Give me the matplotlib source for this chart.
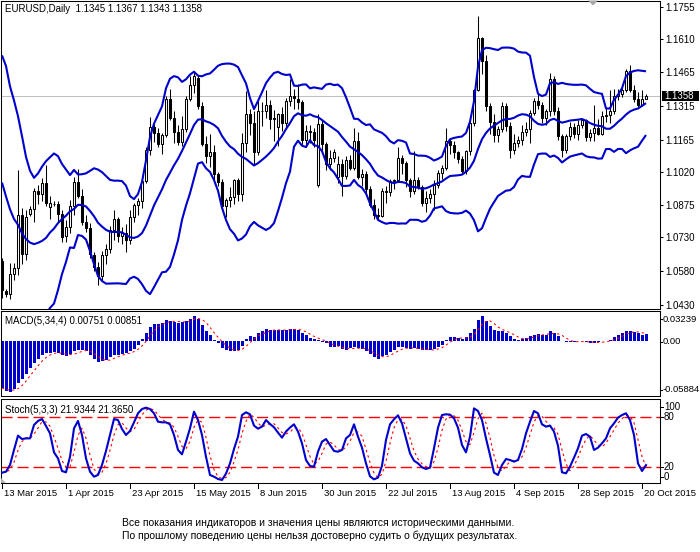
import numpy as np
import pandas as pd
import matplotlib
matplotlib.use('Agg')
import matplotlib.pyplot as plt
from matplotlib.lines import Line2D
from matplotlib.patches import Polygon, Rectangle

plt.rcParams['font.family'] = ['Liberation Sans', 'DejaVu Sans']

W, H = 700, 552

# ---------------- data ----------------
opens = [1.0626, 1.0490, 1.0480, 1.0567, 1.0595, 1.0830, 1.0655, 1.0835, 1.0855, 1.0935,
         1.0925, 1.0970, 1.0865, 1.0880, 1.0880, 1.0833, 1.0735, 1.0775, 1.0870, 1.0975,
         1.0915, 1.0800, 1.0770, 1.0650, 1.0600, 1.0560, 1.0650, 1.0680, 1.0765, 1.0810,
         1.0735, 1.0750, 1.0720, 1.0820, 1.0875, 1.0890, 1.0980, 1.1120, 1.1222, 1.1195,
         1.1145, 1.1185, 1.1345, 1.1260, 1.1200, 1.1155, 1.1210, 1.1345, 1.1405, 1.1440,
         1.1315, 1.1145, 1.1090, 1.1110, 1.1010, 1.0975, 1.0870, 1.0895, 1.0910, 1.0985,
         1.0925, 1.1150, 1.1280, 1.1240, 1.1110, 1.1290, 1.1290, 1.1320, 1.1255, 1.1220,
         1.1280, 1.1240, 1.1335, 1.1360, 1.1345, 1.1330, 1.1165, 1.1205, 1.1200, 1.0965,
         1.1235, 1.1145, 1.1055, 1.1085, 1.1000, 1.1055, 1.1005, 1.1075, 1.1040, 1.1160,
         1.1000, 1.1010, 1.0945, 1.0875, 1.0830, 1.0825, 1.0935, 1.0930, 1.0980, 1.0985,
         1.1085, 1.1060, 1.0985, 1.0935, 1.0985, 1.0955, 1.0885, 1.0905, 1.0925, 1.0965,
         1.1015, 1.1040, 1.1160, 1.1140, 1.1110, 1.1080, 1.1025, 1.1115, 1.1240, 1.1385,
         1.1615, 1.1515, 1.1315, 1.1245, 1.1185, 1.1210, 1.1315, 1.1225, 1.1120, 1.1150,
         1.1165, 1.1200, 1.1210, 1.1285, 1.1335, 1.1320, 1.1260, 1.1290, 1.1435, 1.1290,
         1.1180, 1.1120, 1.1180, 1.1220, 1.1190, 1.1230, 1.1250, 1.1175, 1.1195, 1.1215,
         1.1190, 1.1270, 1.1275, 1.1290, 1.1360, 1.1365, 1.1385, 1.1470, 1.1385, 1.1345,
         1.1318, 1.1345]
highs = [1.0637, 1.0502, 1.0615, 1.0617, 1.1030, 1.0860, 1.0850, 1.0870, 1.0950, 1.0965,
         1.0995, 1.1050, 1.0915, 1.0890, 1.0890, 1.0850, 1.0808, 1.0895, 1.1000, 1.1035,
         1.0945, 1.0830, 1.0795, 1.0665, 1.0620, 1.0670, 1.0700, 1.0780, 1.0850, 1.0820,
         1.0775, 1.0790, 1.0850, 1.0885, 1.0905, 1.0990, 1.1130, 1.1265, 1.1235, 1.1215,
         1.1195, 1.1360, 1.1390, 1.1290, 1.1230, 1.1270, 1.1360, 1.1445, 1.1467, 1.1450,
         1.1330, 1.1180, 1.1190, 1.1140, 1.1020, 1.0990, 1.0905, 1.0955, 1.0990, 1.0995,
         1.1195, 1.1380, 1.1300, 1.1290, 1.1335, 1.1330, 1.1385, 1.1340, 1.1295, 1.1285,
         1.1310, 1.1350, 1.1436, 1.1390, 1.1410, 1.1340, 1.1230, 1.1230, 1.1215, 1.1280,
         1.1250, 1.1155, 1.1120, 1.1125, 1.1090, 1.1080, 1.1090, 1.1095, 1.1215, 1.1200,
         1.1035, 1.1025, 1.0960, 1.0900, 1.0860, 1.0950, 1.0960, 1.0990, 1.0990, 1.1130,
         1.1095, 1.1070, 1.0995, 1.1115, 1.1000, 1.0965, 1.0935, 1.0945, 1.0985, 1.1030,
         1.1050, 1.1215, 1.1170, 1.1160, 1.1115, 1.1090, 1.1120, 1.1245, 1.1390, 1.1714,
         1.1620, 1.1540, 1.1325, 1.1280, 1.1225, 1.1330, 1.1325, 1.1245, 1.1190, 1.1180,
         1.1230, 1.1245, 1.1295, 1.1350, 1.1370, 1.1330, 1.1300, 1.1460, 1.1445, 1.1310,
         1.1190, 1.1190, 1.1245, 1.1240, 1.1250, 1.1260, 1.1255, 1.1210, 1.1320, 1.1255,
         1.1290, 1.1305, 1.1385, 1.1390, 1.1390, 1.1410, 1.1480, 1.1495, 1.1405, 1.1375,
         1.1385, 1.1367]
lows = [1.0462, 1.0465, 1.0458, 1.0540, 1.0565, 1.0613, 1.0630, 1.0825, 1.0800, 1.0880,
        1.0890, 1.0870, 1.0810, 1.0870, 1.0800, 1.0712, 1.0710, 1.0750, 1.0830, 1.0905,
        1.0785, 1.0755, 1.0640, 1.0580, 1.0520, 1.0540, 1.0610, 1.0660, 1.0720, 1.0710,
        1.0700, 1.0665, 1.0700, 1.0800, 1.0830, 1.0860, 1.0970, 1.1095, 1.1155, 1.1130,
        1.1100, 1.1175, 1.1250, 1.1150, 1.1140, 1.1135, 1.1200, 1.1335, 1.1370, 1.1300,
        1.1135, 1.1060, 1.1045, 1.0985, 1.0960, 1.0860, 1.0819, 1.0865, 1.0880, 1.0890,
        1.0890, 1.1110, 1.1185, 1.1050, 1.1095, 1.1225, 1.1260, 1.1210, 1.1160, 1.1135,
        1.1205, 1.1210, 1.1315, 1.1300, 1.1300, 1.1135, 1.1130, 1.1150, 1.1130, 1.0955,
        1.1120, 1.1030, 1.1030, 1.1065, 1.0970, 1.0915, 1.0990, 1.1030, 1.1030, 1.0990,
        1.0960, 1.0925, 1.0865, 1.0810, 1.0808, 1.0820, 1.0885, 1.0915, 1.0945, 1.0975,
        1.1010, 1.0955, 1.0910, 1.0925, 1.0945, 1.0870, 1.0845, 1.0885, 1.0850, 1.0950,
        1.0990, 1.1030, 1.1100, 1.1085, 1.1060, 1.1015, 1.1010, 1.1095, 1.1225, 1.1380,
        1.1455, 1.1290, 1.1190, 1.1155, 1.1155, 1.1200, 1.1205, 1.1085, 1.1100, 1.1130,
        1.1140, 1.1180, 1.1150, 1.1275, 1.1300, 1.1240, 1.1230, 1.1270, 1.1275, 1.1165,
        1.1087, 1.1105, 1.1165, 1.1170, 1.1165, 1.1215, 1.1160, 1.1160, 1.1160, 1.1185,
        1.1185, 1.1245, 1.1240, 1.1280, 1.1340, 1.1355, 1.1375, 1.1375, 1.1330, 1.1310,
        1.1315, 1.1343]
closes = [1.0495, 1.0478, 1.0567, 1.0595, 1.0830, 1.0655, 1.0820, 1.0855, 1.0935, 1.0925,
          1.0970, 1.0885, 1.0885, 1.0880, 1.0833, 1.0730, 1.0775, 1.0870, 1.0975, 1.0915,
          1.0800, 1.0770, 1.0655, 1.0600, 1.0560, 1.0650, 1.0680, 1.0765, 1.0810, 1.0735,
          1.0750, 1.0720, 1.0820, 1.0875, 1.0890, 1.0980, 1.1120, 1.1222, 1.1195, 1.1145,
          1.1185, 1.1345, 1.1260, 1.1200, 1.1155, 1.1210, 1.1345, 1.1405, 1.1445, 1.1315,
          1.1145, 1.1090, 1.1110, 1.1010, 1.0975, 1.0870, 1.0895, 1.0910, 1.0985, 1.0925,
          1.1150, 1.1280, 1.1240, 1.1110, 1.1290, 1.1290, 1.1320, 1.1255, 1.1260, 1.1280,
          1.1240, 1.1335, 1.1360, 1.1350, 1.1330, 1.1165, 1.1205, 1.1200, 1.1165, 1.1235,
          1.1145, 1.1055, 1.1085, 1.1110, 1.1055, 1.1005, 1.1075, 1.1040, 1.1160, 1.1000,
          1.1010, 1.0945, 1.0875, 1.0830, 1.0825, 1.0935, 1.0930, 1.0980, 1.0985, 1.1085,
          1.1060, 1.0985, 1.0935, 1.0985, 1.0955, 1.0885, 1.0905, 1.0925, 1.0965, 1.1015,
          1.1040, 1.1160, 1.1140, 1.1110, 1.1080, 1.1025, 1.1115, 1.1240, 1.1385, 1.1615,
          1.1515, 1.1315, 1.1245, 1.1185, 1.1210, 1.1315, 1.1225, 1.1120, 1.1150, 1.1165,
          1.1200, 1.1210, 1.1285, 1.1335, 1.1320, 1.1260, 1.1290, 1.1435, 1.1290, 1.1180,
          1.1120, 1.1180, 1.1220, 1.1190, 1.1230, 1.1250, 1.1175, 1.1195, 1.1215, 1.1190,
          1.1270, 1.1275, 1.1290, 1.1360, 1.1365, 1.1385, 1.1470, 1.1385, 1.1345, 1.1318,
          1.1345, 1.1358]
# closes of the bars just before the visible window (used only by the band average)
lead_in_closes = [1.1340, 1.1365, 1.1195, 1.1195, 1.1185, 1.1175, 1.1075, 1.1030,
                  1.0845, 1.0850, 1.0700, 1.0550, 1.0630]

macd_main = [-0.0499, -0.0528, -0.0542, -0.0513, -0.0445, -0.0399, -0.0349, -0.0284, -0.0231, -0.0184,
             -0.0148, -0.0127, -0.0120, -0.0116, -0.0120, -0.0148, -0.0159, -0.0134, -0.0106, -0.0095,
             -0.0088, -0.0098, -0.0141, -0.0184, -0.0220, -0.0213, -0.0195, -0.0170, -0.0148, -0.0141,
             -0.0131, -0.0123, -0.0106, -0.0077, -0.0034, 0.0027, 0.0091, 0.0152, 0.0188, 0.0188,
             0.0199, 0.0234, 0.0224, 0.0209, 0.0195, 0.0209, 0.0224, 0.0245, 0.0274, 0.0245,
             0.0181, 0.0116, 0.0066, 0.0020, -0.0020, -0.0070, -0.0095, -0.0098, -0.0098, -0.0095,
             -0.0048, 0.0030, 0.0063, 0.0052, 0.0091, 0.0109, 0.0131, 0.0123, 0.0123, 0.0120,
             0.0120, 0.0127, 0.0134, 0.0134, 0.0127, 0.0088, 0.0066, 0.0038, 0.0027, 0.0016,
             -0.0002, -0.0020, -0.0063, -0.0063, -0.0052, -0.0084, -0.0088, -0.0070, -0.0063, -0.0070,
             -0.0077, -0.0106, -0.0134, -0.0170, -0.0188, -0.0159, -0.0141, -0.0113, -0.0095, -0.0063,
             -0.0063, -0.0070, -0.0080, -0.0070, -0.0077, -0.0095, -0.0095, -0.0095, -0.0080, -0.0055,
             -0.0034, 0.0013, 0.0045, 0.0045, 0.0034, 0.0027, 0.0045, 0.0091, 0.0138, 0.0234,
             0.0270, 0.0216, 0.0163, 0.0127, 0.0116, 0.0116, 0.0091, 0.0055, 0.0030, 0.0020,
             0.0027, 0.0038, 0.0055, 0.0073, 0.0080, 0.0073, 0.0073, 0.0109, 0.0091, 0.0055,
             0.0009, -0.0005, -0.0005, -0.0005, 0.0005, 0.0002, -0.0009, -0.0013, -0.0013, -0.0009,
             0.0002, 0.0009, 0.0016, 0.0045, 0.0066, 0.0088, 0.0109, 0.0109, 0.0105, 0.0090,
             0.0073, 0.0075]

stoch_k = [12.7, 13.9, 22.0, 40.3, 57.7, 53.6, 54.4, 54.4, 70.7, 75.6,
           77.9, 69.5, 60.5, 37.4, 30.1, 14.7, 13.1, 32.0, 66.6, 75.6,
           58.5, 30.1, 13.9, 7.8, 9.9, 22.0, 39.1, 58.5, 77.9, 76.7,
           65.8, 58.5, 63.4, 73.9, 84.9, 90.1, 91.8, 90.1, 84.9, 74.7,
           73.9, 73.9, 71.5, 58.5, 40.3, 35.0, 50.4, 66.6, 86.9, 76.7,
           58.5, 32.0, 9.9, 7.8, 5.0, 3.8, 11.5, 24.0, 41.5, 56.5,
           82.8, 86.1, 83.7, 69.9, 66.2, 68.7, 76.7, 71.9, 67.9, 61.4,
           55.3, 62.7, 67.6, 71.5, 62.7, 48.4, 28.1, 20.8, 20.0, 38.2,
           50.4, 53.6, 46.3, 39.1, 38.2, 40.3, 54.4, 58.5, 71.5, 56.5,
           43.1, 24.0, 8.2, 4.6, 6.6, 21.2, 52.5, 71.5, 77.6, 82.4,
           72.7, 54.4, 36.2, 27.3, 24.0, 19.2, 17.2, 18.8, 42.3, 67.4,
           82.8, 83.7, 83.3, 78.8, 67.4, 46.3, 37.4, 56.5, 90.9, 87.7,
           76.7, 54.4, 34.2, 12.7, 9.9, 22.0, 29.3, 28.1, 26.1, 28.1,
           41.5, 60.5, 74.7, 87.7, 84.9, 71.5, 68.7, 69.9, 62.7, 45.5,
           13.1, 11.9, 20.0, 30.9, 42.3, 57.7, 59.7, 56.5, 40.3, 43.1,
           48.4, 54.4, 66.6, 72.7, 79.6, 82.8, 84.9, 76.7, 58.5, 24.0,
           14.7, 21.9]

price_ticks = [1.1755, 1.1610, 1.1465, 1.1315, 1.1165, 1.1020, 1.0875, 1.0730, 1.0580, 1.0430]
date_tick_bars = [0, 16, 32, 48, 64, 80, 96, 112, 128, 144, 160]
date_labels = ['13 Mar 2015', '1 Apr 2015', '23 Apr 2015', '15 May 2015', '8 Jun 2015',
               '30 Jun 2015', '22 Jul 2015', '13 Aug 2015', '4 Sep 2015', '28 Sep 2015',
               '20 Oct 2015']
macd_scale = [0.03239, 0.00, -0.05884]
stoch_levels = [20, 80]
stoch_scale = [100, 80, 20, 0]
bb_period, bb_dev = 14, 2.0
last_price = 1.1358
header_text = 'EURUSD,Daily  1.1345 1.1367 1.1343 1.1358'
macd_text = 'MACD(5,34,4) 0.00751 0.00851'
stoch_text = 'Stoch(5,3,3) 21.9344 21.3650'
footer_lines = ['Все показания индикаторов и значения цены являются историческими данными.',
                'По прошлому поведению цены нельзя достоверно судить о будущих результатах.']

# ---------------- helpers ----------------
BLUE = '#0000CD'

def rect(l, t, r, b):
    return [l / W, 1 - b / H, (r - l) / W, (b - t) / H]

def fx(px):
    return px / W

def fy(py):
    return 1 - py / H

o = np.array(opens); h = np.array(highs); l = np.array(lows); c = np.array(closes)
h = np.maximum(h, np.maximum(o, c)); l = np.minimum(l, np.minimum(o, c))
n = len(c)
x = np.arange(n)

allc = pd.Series(list(lead_in_closes) + list(closes))
mid = allc.rolling(bb_period).mean().values[-n:]
sd = allc.rolling(bb_period).std(ddof=0).values[-n:]
upper = mid + bb_dev * sd
lower = mid - bb_dev * sd

macd_arr = np.array(macd_main)
signal = pd.Series(macd_arr).rolling(4, min_periods=1).mean().values
k_arr = np.array(stoch_k)
d_arr = pd.Series(k_arr).rolling(3, min_periods=1).mean().values

fig = plt.figure(figsize=(W / 100, H / 100), dpi=100)
fig.patch.set_facecolor('white')

XL = (-0.375, 164.5)
main = fig.add_axes(rect(0.5, 1, 660, 308.5))
macd_ax = fig.add_axes(rect(0.5, 311.3, 660, 396.3))
stoch_ax = fig.add_axes(rect(0.5, 399, 660, 483.3))

for ax in (main, macd_ax, stoch_ax):
    ax.set_xlim(*XL)
    ax.set_xticks([])
    for s in ax.spines.values():
        s.set_linewidth(0.75)
        s.set_color('black')

# ---- main chart ----
main.set_ylim(1.04144, 1.17803)
main.axhline(last_price, color='#C0C0C0', lw=0.75, zorder=1)
main.vlines(x, l, h, color='black', lw=0.75, zorder=2)
up = c >= o
bottoms = np.minimum(o, c)
heights = np.maximum(np.abs(c - o), 0.00002)
main.bar(x, heights, bottom=bottoms, width=0.5,
         color=np.where(up, 'white', 'black'), edgecolor='black', linewidth=0.75, zorder=3)
for band in (upper, mid, lower):
    main.plot(x, band, color=BLUE, lw=1.5, zorder=4, solid_capstyle='butt')
main.yaxis.tick_right()
main.set_yticks(price_ticks)
main.set_yticklabels(['%.4f' % v for v in price_ticks])
main.tick_params(axis='y', length=2.5, width=0.75, pad=1.5, labelsize=7, colors='black')

# ---- MACD ----
macd_ax.set_ylim(-0.05884, 0.03239)
macd_ax.set_yticks([])
macd_ax.bar(x, macd_arr, width=0.75, color=BLUE, linewidth=0, zorder=2)
macd_ax.plot(x, signal, color='red', lw=0.75, dashes=(2.2, 2.8), zorder=3)

# ---- Stochastic ----
stoch_ax.set_ylim(-0.24, 102.3)
stoch_ax.set_yticks([])
for lv in stoch_levels:
    stoch_ax.axhline(lv, color='#FF0000', lw=1.0, dashes=(8, 3.5), zorder=1)
stoch_ax.plot(x, k_arr, color=BLUE, lw=1.5, zorder=3)
stoch_ax.plot(x, d_arr, color='#FF0000', lw=0.8, dashes=(2.2, 2.8), zorder=2)

# ---- texts ----
fs = 7
fig.text(fx(5), fy(8.5), header_text, fontsize=fs, va='center', ha='left')
fig.text(fx(5), fy(320.5), macd_text, fontsize=fs, va='center', ha='left')
fig.text(fx(5), fy(410), stoch_text, fontsize=fs, va='center', ha='left')

macd_label_y = [319, 341.5, 389.5]
for v, py in zip(macd_scale, macd_label_y):
    txt = '0.00' if v == 0 else '%.5f' % v
    fig.text(fx(662.5), fy(py), txt, fontsize=6.8, va='center', ha='left')
    fig.add_artist(Line2D([fx(660), fx(662)], [fy(py), fy(py)], color='black', lw=0.75))

stoch_label_y = [406.7, 417.3, 466.7, 477.3]
for v, py in zip(stoch_scale, stoch_label_y):
    fig.text(fx(664), fy(py), str(v), fontsize=fs, va='center', ha='left')
    fig.add_artist(Line2D([fx(660), fx(663)], [fy(py), fy(py)], color='black', lw=0.75))

# last price marker
py_last = 6.7 + (1.1755 - last_price) / 0.0004442
fig.add_artist(Rectangle((fx(661.5), fy(py_last + 5)), 37 / W, 10.5 / H,
                         facecolor='black', edgecolor='black', lw=0))
fig.text(fx(664), fy(py_last), '%.4f' % last_price, fontsize=fs, color='white',
         va='center', ha='left')

# date axis
for b, lab in zip(date_tick_bars, date_labels):
    px = 2 + 4 * b
    fig.add_artist(Line2D([fx(px), fx(px)], [fy(483.3), fy(487.5)], color='black', lw=0.75))
    fig.text(fx(px + 1.5), fy(494), lab, fontsize=6.8, va='center', ha='left')

# shift markers
fig.add_artist(Polygon([(fx(588), fy(0.5)), (fx(598), fy(0.5)), (fx(593), fy(5.5))],
                       closed=True, facecolor='#A8A8A8', edgecolor='none'))
fig.add_artist(Polygon([(fx(1), fy(478)), (fx(1), fy(483)), (fx(6), fy(483))],
                       closed=True, facecolor='#B0B0B0', edgecolor='none'))

fig.text(fx(318), fy(523), footer_lines[0], fontsize=7.5, va='center', ha='center')
fig.text(fx(320), fy(536), footer_lines[1], fontsize=7.5, va='center', ha='center')

fig.savefig('out.png', dpi=100, facecolor='white')
